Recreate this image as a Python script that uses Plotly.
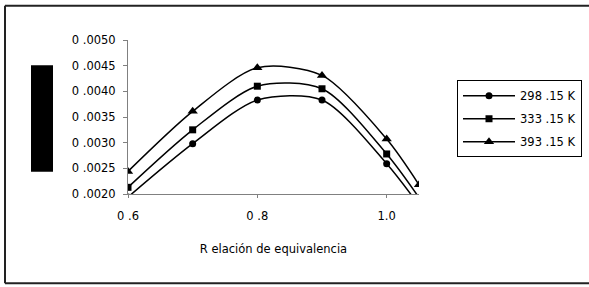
import plotly.graph_objects as go

# Data
relacion = [0.6, 0.7, 0.8, 0.9, 1.0, 1.05]
t_298 = [0.00194, 0.00298, 0.00383, 0.00383, 0.00259, 0.00178]
t_333 = [0.00213, 0.00325, 0.00410, 0.00405, 0.00278, 0.00193]
t_393 = [0.00244, 0.00361, 0.00446, 0.00431, 0.00307, 0.00218]
series_names = ["298 .15 K", "333 .15 K", "393 .15 K"]
x_ticks = [0.6, 0.8, 1.0]
x_ticklabels = ["0 .6", "0 .8", "1.0"]
y_ticks = [0.0020, 0.0025, 0.0030, 0.0035, 0.0040, 0.0045, 0.0050]
y_ticklabels = ["0 .0020", "0 .0025", "0 .0030", "0 .0035", "0 .0040", "0 .0045", "0 .0050"]
x_title = "R elación de equivalencia"

W, H = 589, 287
L, R, T, B = 128, 170, 39.5, 92.7
pw, ph = W - L - R, H - T - B

def px_x(px):
    return (px - L) / pw

def px_y(py):
    return (H - B - py) / ph

FONT = "DejaVu Sans, Verdana, sans-serif"

fig = go.Figure()
symbols = ["circle", "square", "triangle-up"]
sizes = [7, 7, 9]
for name, ys, sym, sz in zip(series_names, [t_298, t_333, t_393], symbols, sizes):
    fig.add_trace(go.Scatter(
        x=relacion, y=ys, name=name, mode="lines+markers",
        line=dict(color="black", width=1.5, shape="spline", smoothing=0.8),
        marker=dict(symbol=sym, size=sz, color="black"),
        legendgroup=name,
    ))

fig.update_layout(
    width=W, height=H,
    margin=dict(l=L, r=R, t=T, b=B, autoexpand=False),
    paper_bgcolor="white", plot_bgcolor="white",
    font=dict(family=FONT, size=11.5, color="black"),
    showlegend=True,
    legend=dict(
        x=px_x(457), y=px_y(80), xanchor="left", yanchor="top",
        bordercolor="black", borderwidth=1, bgcolor="white",
        font=dict(family=FONT, size=11.5, color="black"),
        tracegroupgap=4, itemwidth=52,
    ),
    xaxis=dict(
        range=[0.6, 1.05], tickvals=x_ticks, ticktext=x_ticklabels,
        showgrid=False, zeroline=False, showline=True, linecolor="#808080", linewidth=1,
        ticks="outside", ticklen=3, tickcolor="#808080", ticklabelstandoff=8,
        title=dict(text=x_title, standoff=23, font=dict(family=FONT, size=11.5)),
    ),
    yaxis=dict(
        range=[0.0020, 0.0050], tickvals=y_ticks, ticktext=y_ticklabels,
        showgrid=False, zeroline=False, showline=True, linecolor="#808080", linewidth=1,
        ticks="outside", ticklen=4, tickcolor="#808080", ticklabelstandoff=5,
    ),
    shapes=[
        dict(type="rect", xref="paper", yref="paper",
             x0=px_x(31), x1=px_x(53), y0=px_y(172), y1=px_y(65),
             fillcolor="black", line=dict(width=0)),
        dict(type="line", xref="paper", yref="paper",
             x0=px_x(5), x1=px_x(5), y0=px_y(5), y1=px_y(284),
             line=dict(color="#222222", width=2)),
        dict(type="line", xref="paper", yref="paper",
             x0=px_x(5), x1=px_x(600), y0=px_y(5), y1=px_y(5),
             line=dict(color="#222222", width=2)),
        dict(type="line", xref="paper", yref="paper",
             x0=px_x(5), x1=px_x(600), y0=px_y(284), y1=px_y(284),
             line=dict(color="#222222", width=2)),
    ],
)

fig.write_html(
    "out.html",
    config={"displayModeBar": False},
    post_script="document.body.style.margin='0';document.body.style.overflow='hidden';",
)
